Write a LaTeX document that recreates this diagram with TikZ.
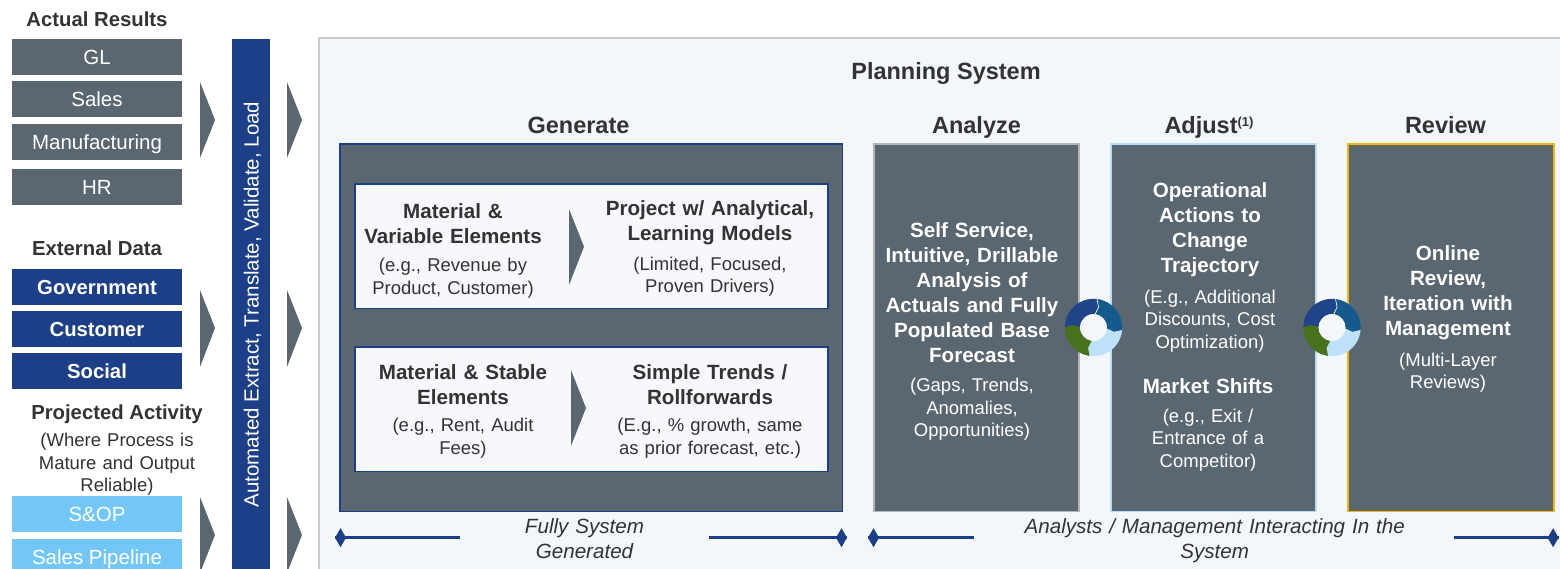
\documentclass[tikz,border=0pt]{standalone}
\usepackage{fontspec}
\setmainfont{Liberation Sans}
\usetikzlibrary{arrows.meta}
\definecolor{slate}{HTML}{5A6670}
\definecolor{navy}{HTML}{1C3F87}
\definecolor{skyb}{HTML}{72C7F7}
\definecolor{panelbg}{HTML}{F3F6FB}
\definecolor{innerbg}{HTML}{F6F8FC}
\definecolor{panelln}{HTML}{C9CCCF}
\definecolor{txt}{HTML}{333333}
\definecolor{adjln}{HTML}{BBDCF5}
\definecolor{analn}{HTML}{B3B6B9}
\definecolor{gold}{HTML}{F2B705}
\definecolor{cycA}{HTML}{1F4488}
\definecolor{cycB}{HTML}{155A8C}
\definecolor{cycC}{HTML}{BDE1F8}
\definecolor{cycD}{HTML}{47711C}
\newcommand\FBold{\fontsize{20.6}{25}\selectfont\bfseries}
\newcommand\FSmall{\fontsize{18.5}{22.5}\selectfont}
\newcommand\FHead{\fontsize{23.5}{28}\selectfont\bfseries}
\newcommand\FLab{\fontsize{20.5}{24}\selectfont}
\newcommand\FLabB{\fontsize{20.3}{24}\selectfont\bfseries}
\newcommand\FItal{\fontsize{20.6}{25}\selectfont\itshape}
\begin{document}
\begin{tikzpicture}[x=1pt,y=-1pt,
  srcbox/.style={inner sep=0pt, minimum width=170pt, minimum height=35.5pt,
    text height=15pt, text depth=0pt, font=\FLab, text=white},
  tline/.style={anchor=base, align=center, text width=#1, inner sep=0pt},
  tline/.default=230pt,
  colbox/.style={inner sep=0pt, fill=slate, line width=1.6pt,
    minimum width=205pt, minimum height=367.5pt},
  innerbox/.style={inner sep=0pt, draw=navy, fill=innerbg, line width=1.5pt,
    minimum width=473pt, minimum height=124.5pt},
  chev/.style={fill=slate},
  bline/.style={draw=navy, line width=3.3pt},
  dmd/.style={fill=navy},
  cyc/.pic={
    \begin{scope}[yscale=-1]
    \fill[cycA] (180:28.7) arc[start angle=180,end angle=83,radius=28.7] -- (76:21) -- (83:13.5) arc[start angle=83,end angle=180,radius=13.5] -- (173:21) -- cycle;
    \fill[cycB] (83:28.7) arc[start angle=83,end angle=-5,radius=28.7] -- (-12:21) -- (-5:13.5) arc[start angle=-5,end angle=83,radius=13.5] -- (76:21) -- cycle;
    \fill[cycC] (-5:28.7) arc[start angle=-5,end angle=-98,radius=28.7] -- (-105:21) -- (-98:13.5) arc[start angle=-98,end angle=-5,radius=13.5] -- (-12:21) -- cycle;
    \fill[cycD] (-98:28.7) arc[start angle=-98,end angle=-180,radius=28.7] -- (-187:21) -- (-180:13.5) arc[start angle=-180,end angle=-98,radius=13.5] -- (-105:21) -- cycle;
    \draw[white, line width=0.6pt] (83:13.5) -- (76:21) -- (83:28.7);
    \fill[panelbg] (0,0) circle[radius=13.3];
    \end{scope}
  }]
\clip (0,0) rectangle (1560,569);
\fill[white] (0,0) rectangle (1560,569);

% ---- left column
\node (actual) [anchor=base, font=\FLabB, text=txt, inner sep=0pt] at (97,26.7) {Actual Results};
\node (gl)    [srcbox, fill=slate] at (97,57)  {GL};
\node (sales) [srcbox, fill=slate] at (97,99)  {Sales};
\node (manu)  [srcbox, fill=slate] at (97,142) {Manufacturing};
\node (hr)    [srcbox, fill=slate] at (97,187) {HR};

\node (external) [anchor=base, font=\FLabB, text=txt, inner sep=0pt] at (97,256) {External Data};
\node (gov)  [srcbox, fill=navy, font=\FLabB] at (97,287) {Government};
\node (cust) [srcbox, fill=navy, font=\FLabB] at (97,329) {Customer};
\node (soc)  [srcbox, fill=navy, font=\FLabB] at (97,371) {Social};

\node (projected) [anchor=base, font=\FLabB, text=txt, inner sep=0pt] at (117,419.3) {Projected Activity};
\node (projd) [tline=200pt, font=\fontsize{18.5}{22.3}\selectfont, text=txt] at (117,446.7) {(Where Process is\\Mature and Output\\Reliable)};
\node (sop)  [srcbox, fill=skyb] at (97,514) {S\&OP};
\node (pipe) [srcbox, fill=skyb] at (97,557) {Sales Pipeline};

% ---- chevrons
\fill[chev] (200,82) -- (215,120) -- (200,158) -- cycle;
\fill[chev] (200,290) -- (215,328) -- (200,367) -- cycle;
\fill[chev] (200,497) -- (215,535) -- (200,573) -- cycle;
\fill[chev] (287,82) -- (302,120) -- (287,158) -- cycle;
\fill[chev] (287,290) -- (302,328) -- (287,367) -- cycle;
\fill[chev] (287,497) -- (302,535) -- (287,573) -- cycle;

% ---- ETL bar
\fill[navy] (232,39) rectangle (270,600);
\node (etl) [rotate=90, font=\FLab, text=white, inner sep=0pt, text height=15pt, text depth=0pt] at (251,304.5) {Automated Extract, Translate, Validate, Load};

% ---- planning panel
\draw[panelln, line width=2pt, fill=panelbg] (319,38) rectangle (1640,650);
\node (ps) [anchor=base, font=\FHead, text=txt, inner sep=0pt] at (946,79.3) {Planning System};
\node (hgen) [anchor=base, font=\FHead, text=txt, inner sep=0pt] at (578.5,133.3) {Generate};
\node (hana) [anchor=base, font=\FHead, text=txt, inner sep=0pt] at (976.5,133.3) {Analyze};
\node (hadj) [anchor=base, font=\FHead, text=txt, inner sep=0pt] at (1209,133.3) {Adjust{\fontsize{13}{13}\selectfont\raisebox{6.5pt}{(1)}}};
\node (hrev) [anchor=base, font=\FHead, text=txt, inner sep=0pt] at (1445.5,133.3) {Review};

% ---- generate
\node (gen) [colbox, draw=navy, minimum width=502.5pt] at (591.25,327.75) {};
\node (g1) [innerbox] at (591.5,246.25) {};
\node (g2) [innerbox] at (591.5,409.25) {};
\fill[chev] (569,209) -- (584,246.7) -- (569,285) -- cycle;
\fill[chev] (571,370) -- (586,408) -- (571,446) -- cycle;

\node (g1L)  [tline, font=\FBold, text=txt] at (453,218.3) {Material \&\\Variable Elements};
\node (g1Ld) [tline, font=\FSmall, text=txt] at (453,271.7) {(e.g., Revenue by\\Product, Customer)};
\node (g1R)  [tline, font=\FBold, text=txt] at (710,216) {Project w/ Analytical,\\Learning Models};
\node (g1Rd) [tline, font=\FSmall, text=txt] at (710,270) {(Limited, Focused,\\Proven Drivers)};
\node (g2L)  [tline, font=\FBold, text=txt] at (463,379.3) {Material \& Stable\\Elements};
\node (g2Ld) [tline, font=\FSmall, text=txt] at (463,431.7) {(e.g., Rent, Audit\\Fees)};
\node (g2R)  [tline, font=\FBold, text=txt] at (710,379.3) {Simple Trends /\\Rollforwards};
\node (g2Rd) [tline, font=\FSmall, text=txt] at (710,431.7) {(E.g., \% growth, same\\as prior forecast, etc.)};

% ---- analyze / adjust / review
\node (ana) [colbox, draw=analn] at (976.5,327.75) {};
\node (adj) [colbox, draw=adjln] at (1213.5,327.75) {};
\node (rev) [colbox, draw=gold, minimum width=206pt] at (1451,327.75) {};

\node (anaT) [tline, font=\FBold, text=white] at (972,237.5) {Self Service,\\Intuitive, Drillable\\Analysis of\\Actuals and Fully\\Populated Base\\Forecast};
\node (anaD) [tline, font=\fontsize{18.5}{22.7}\selectfont, text=white] at (972,391.3) {(Gaps, Trends,\\Anomalies,\\Opportunities)};

\node (adjT) [tline, font=\FBold, text=white] at (1210,198) {Operational\\Actions to\\Change\\Trajectory};
\node (adjD) [tline, font=\FSmall, text=white] at (1210,303) {(E.g., Additional\\Discounts, Cost\\Optimization)};
\node (adjM) [tline, font=\FBold, text=white] at (1208,393) {Market Shifts};
\node (adjE) [tline, font=\FSmall, text=white] at (1208,422) {(e.g., Exit /\\Entrance of a\\Competitor)};

\node (revT) [tline, font=\FBold, text=white] at (1448,261) {Online\\Review,\\Iteration with\\Management};
\node (revD) [tline, font=\fontsize{18.5}{21.7}\selectfont, text=white] at (1448,366.7) {(Multi-Layer\\Reviews)};

% ---- cycle icons
\pic (cyc1) at (1093.5,327.5) {cyc};
\pic (cyc2) at (1332,327.5) {cyc};

% ---- bottom spans
\coordinate (l1s) at (335,537.7);
\coordinate (l1e) at (459.5,537.7);
\coordinate (l2s) at (709,537.7);
\coordinate (l2e) at (847,537.7);
\coordinate (l3s) at (868,537.7);
\coordinate (l3e) at (973.6,537.7);
\coordinate (l4s) at (1454,537.7);
\coordinate (l4e) at (1558.6,537.7);
\draw[bline] (l1s) -- (l1e);
\draw[bline] (l2s) -- (l2e);
\draw[bline] (l3s) -- (l3e);
\draw[bline] (l4s) -- (l4e);
\fill[dmd] (l1s) -- ++(5.5,-9.5) -- ++(5.5,9.5) -- ++(-5.5,9.5) -- cycle;
\fill[dmd] (l2e) -- ++(-5.5,-9.5) -- ++(-5.5,9.5) -- ++(5.5,9.5) -- cycle;
\fill[dmd] (l3s) -- ++(5.5,-9.5) -- ++(5.5,9.5) -- ++(-5.5,9.5) -- cycle;
\fill[dmd] (l4e) -- ++(-5.5,-9.5) -- ++(-5.5,9.5) -- ++(5.5,9.5) -- cycle;
\node (fsg) [tline=300pt, font=\FItal, text=txt] at (584.5,533.3) {Fully System\\Generated};
\node (ami) [tline=460pt, font=\FItal, text=txt] at (1214.7,533.3) {Analysts / Management Interacting In the\\System};
\end{tikzpicture}
\end{document}
